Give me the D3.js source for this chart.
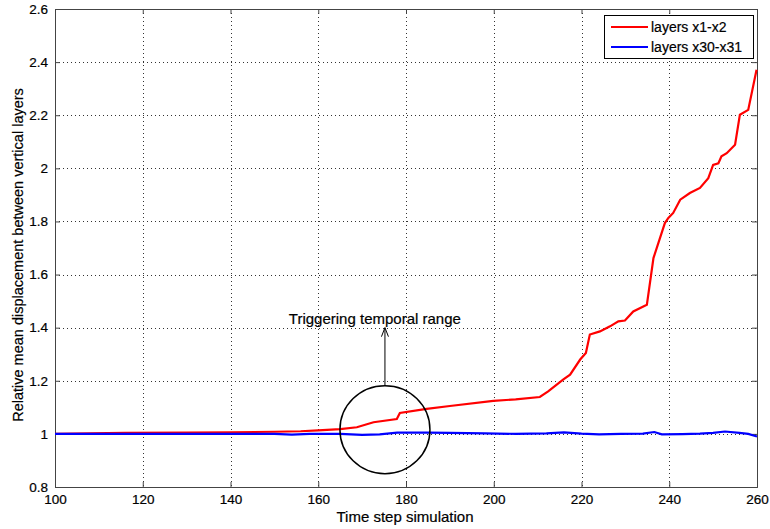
<!DOCTYPE html>
<html>
<head>
<meta charset="utf-8">
<script src="https://cdn.jsdelivr.net/npm/d3@7"></script>
<style>
  body { margin: 0; background: #fff; }
  text { font-family: "Liberation Sans", Arial, sans-serif; fill: #000; stroke: #000; stroke-width: 0.2px; }
</style>
</head>
<body>
<div id="chart"></div>
<script>
// data
var redX = [100, 116, 130, 140, 150, 156, 160, 165, 168.8, 172.6, 177.9, 178.6, 184.7, 190, 199.9, 205, 210.5, 212.4, 215.8, 217.4, 219.7, 221.0, 221.9, 224.2, 226.5, 228.4, 229.9, 231.8, 234.9, 236.4, 239.0, 239.8, 240.9, 242.5, 244.7, 247.0, 248.9, 250.0, 251.2, 251.9, 253.1, 255.0, 256.1, 258.0, 259.9];
var redY = [1.0, 1.004, 1.005, 1.006, 1.008, 1.010, 1.013, 1.018, 1.025, 1.044, 1.056, 1.079, 1.094, 1.105, 1.124, 1.130, 1.139, 1.160, 1.204, 1.223, 1.280, 1.305, 1.374, 1.386, 1.405, 1.424, 1.427, 1.461, 1.486, 1.662, 1.794, 1.813, 1.832, 1.882, 1.907, 1.926, 1.963, 2.013, 2.019, 2.045, 2.057, 2.089, 2.202, 2.220, 2.371];
var blueX = [100, 150, 154, 158, 165, 170, 174, 178, 185, 190, 198, 205, 212, 216, 220, 224, 229, 234, 236.6, 238.3, 243, 247, 250, 252.7, 256, 258, 260];
var blueY = [1.0, 1.0, 0.997, 1.0, 1.0, 0.996, 0.998, 1.005, 1.005, 1.004, 1.002, 1.0, 1.002, 1.006, 1.001, 0.998, 1.0, 1.001, 1.007, 0.998, 0.999, 1.001, 1.004, 1.009, 1.004, 1.0, 0.99];
var xTicks = [100, 120, 140, 160, 180, 200, 220, 240, 260];
var yTicks = [0.8, 1, 1.2, 1.4, 1.6, 1.8, 2, 2.2, 2.4, 2.6];
var seriesNames = ['layers x1-x2', 'layers x30-x31'];
var seriesColors = ['#ff0000', '#0000ff'];

var W = 770, H = 529;
var plotL = 55, plotR = 757, plotT = 9, plotB = 487;

var svg = d3.select('#chart').append('svg').attr('width', W).attr('height', H);

var x = d3.scaleLinear().domain([100, 260]).range([plotL, plotR]);
var y = d3.scaleLinear().domain([0.8, 2.6]).range([plotB, plotT]);

// dotted grid
var grid = svg.append('g').attr('stroke', '#333').attr('stroke-width', 1).attr('stroke-dasharray', '1,3');
grid.selectAll('line.gx').data(xTicks.slice(1, -1)).enter().append('line')
    .attr('x1', function(d) { return Math.round(x(d)) + 0.5; })
    .attr('x2', function(d) { return Math.round(x(d)) + 0.5; })
    .attr('y1', plotT).attr('y2', plotB);
grid.selectAll('line.gy').data(yTicks.slice(1, -1)).enter().append('line')
    .attr('y1', function(d) { return Math.round(y(d)) + 0.5; })
    .attr('y2', function(d) { return Math.round(y(d)) + 0.5; })
    .attr('x1', plotL).attr('x2', plotR);

// axes, ticks inward on all sides
var fmt = function(d) { return d3.format('')(+d.toFixed(1)); };
var axB = svg.append('g').attr('transform', 'translate(0,' + plotB + ')')
    .call(d3.axisBottom(x).tickValues(xTicks).tickSize(-5).tickPadding(7).tickFormat(d3.format('d')));
var axT = svg.append('g').attr('transform', 'translate(0,' + plotT + ')')
    .call(d3.axisTop(x).tickValues(xTicks).tickSize(-5).tickFormat(''));
var axL = svg.append('g').attr('transform', 'translate(' + plotL + ',0)')
    .call(d3.axisLeft(y).tickValues(yTicks).tickSize(-5).tickPadding(7).tickFormat(fmt));
var axR = svg.append('g').attr('transform', 'translate(' + plotR + ',0)')
    .call(d3.axisRight(y).tickValues(yTicks).tickSize(-5).tickFormat(''));
[axB, axT, axL, axR].forEach(function(a) {
  a.selectAll('path').attr('stroke', '#444');
  a.selectAll('line').attr('stroke', '#444');
  a.selectAll('text').attr('font-size', 13.5).attr('font-family', '"Liberation Sans", Arial, sans-serif').attr('fill', '#000');
});

// curves
var line = d3.line().x(function(d) { return x(d[0]); }).y(function(d) { return y(d[1]); });
var redData = d3.zip(redX, redY), blueData = d3.zip(blueX, blueY);
svg.append('path').datum(redData).attr('d', line).attr('fill', 'none')
    .attr('stroke', seriesColors[0]).attr('stroke-width', 2.2);
svg.append('path').datum(blueData).attr('d', line).attr('fill', 'none')
    .attr('stroke', seriesColors[1]).attr('stroke-width', 2.2);

// annotation: circle, arrow, text
var cx = x(175.2), cy = y(1.016);
svg.append('ellipse').attr('cx', cx).attr('cy', cy)
    .attr('rx', 45).attr('ry', 44).attr('fill', 'none').attr('stroke', '#000').attr('stroke-width', 1.5);
svg.append('line').attr('x1', cx).attr('x2', cx)
    .attr('y1', cy - 44).attr('y2', y(1.40))
    .attr('stroke', '#000').attr('stroke-width', 1);
svg.append('path')
    .attr('d', 'M' + (cx - 3.5) + ',' + (y(1.40) + 9) + 'L' + cx + ',' + y(1.40) + 'L' + (cx + 3.5) + ',' + (y(1.40) + 9))
    .attr('fill', 'none').attr('stroke', '#000').attr('stroke-width', 1);
svg.append('text').attr('x', x(172.9)).attr('y', y(1.434) + 5.5)
    .attr('text-anchor', 'middle').attr('font-size', 15).text('Triggering temporal range');

// axis titles
svg.append('text').attr('x', 405).attr('y', 522)
    .attr('text-anchor', 'middle').attr('font-size', 15).text('Time step simulation');
svg.append('text').attr('transform', 'translate(23,' + ((plotT + plotB) / 2 + 7) + ') rotate(-90)')
    .attr('text-anchor', 'middle').attr('font-size', 14.5).text('Relative mean displacement between vertical layers');

// legend
var lg = svg.append('g').attr('transform', 'translate(604,15)');
lg.append('rect').attr('x', 0.5).attr('y', 0.5).attr('width', 149).attr('height', 43)
    .attr('fill', '#fff').attr('stroke', '#000').attr('stroke-width', 1);
seriesNames.forEach(function(n, i) {
  var yy = 12 + i * 20;
  lg.append('line').attr('x1', 7).attr('x2', 44).attr('y1', yy).attr('y2', yy)
      .attr('stroke', seriesColors[i]).attr('stroke-width', 2);
  lg.append('text').attr('x', 47).attr('y', yy + 5).attr('font-size', 14).text(n);
});
</script>
</body>
</html>
